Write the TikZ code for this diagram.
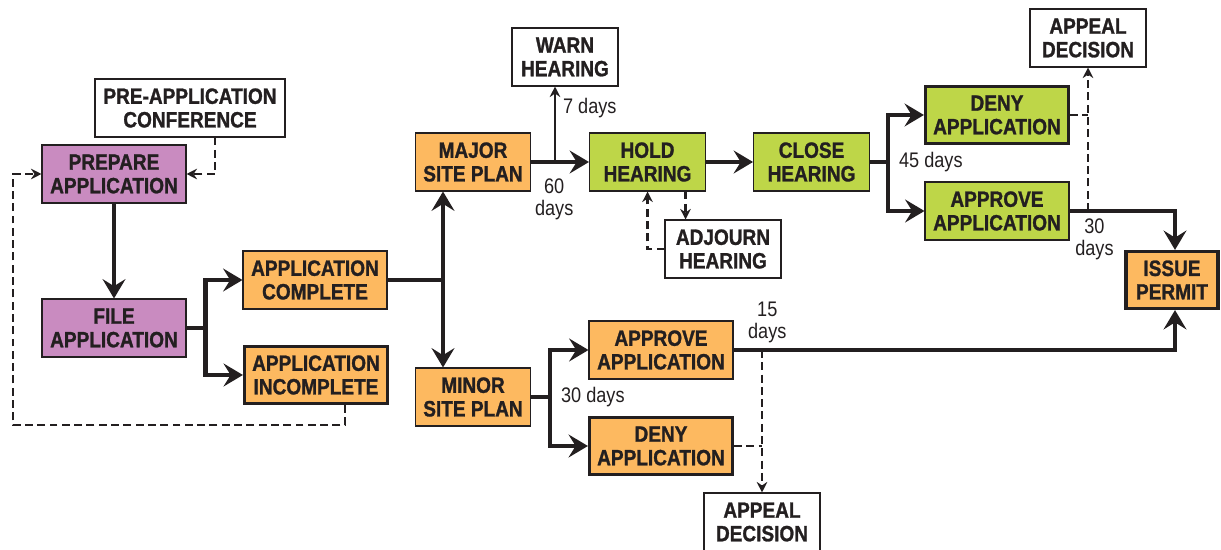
\documentclass[tikz,border=0pt]{standalone}
\usepackage{fontspec}
\setmainfont{Liberation Sans}
\newfontfamily\cnd[FakeStretch=0.86, BoldFeatures={FakeBold=1.2}]{Liberation Sans}
\usepackage{xcolor}
\usetikzlibrary{positioning,arrows.meta}

\definecolor{prepurple}{HTML}{C98BC0}
\definecolor{steporange}{HTML}{FDB960}
\definecolor{hearinggreen}{HTML}{BED648}
\definecolor{inkgray}{HTML}{231F20}

\begin{document}
\begin{tikzpicture}[x=0.02cm, y=-0.02cm,
  box/.style={draw=inkgray, line width=0.6pt, align=center, minimum height=1.16cm, inner sep=2pt, text=inkgray, font=\cnd\bfseries\fontsize{12.6}{13.4}\selectfont},
  purplebox/.style={box, fill=prepurple, minimum width=2.88cm},
  orangebox/.style={box, fill=steporange, minimum width=2.88cm},
  greenbox/.style={box, fill=hearinggreen, minimum width=2.88cm},
  notebox/.style={box, fill=white, minimum width=2.32cm},
  endbox/.style={line width=1.8pt, minimum width=2.86cm, minimum height=1.14cm},
  lbl/.style={font=\cnd\fontsize{12}{12.5}\selectfont, text=inkgray, align=center, inner sep=1pt},
  arr/.style={-{Stealth[length=11pt, width=13pt, inset=4pt]}, line width=2.6pt, draw=inkgray},
  thinarr/.style={-{Stealth[length=6pt, width=6pt, inset=2pt]}, line width=1.2pt, draw=inkgray},
  dsh/.style={thinarr, dash pattern=on 4.5pt off 2.5pt},
  dshline/.style={line width=1.2pt, draw=inkgray, dash pattern=on 4.5pt off 2.5pt}
]
\useasboundingbox (0,0) rectangle (1221,550);

% application stage
\node[notebox, minimum width=3.8cm] (preapp) at (190,108) {PRE-APPLICATION\\CONFERENCE};
\node[purplebox] (prep) at (114,174) {PREPARE\\APPLICATION};
\node[purplebox] (file) at (114,328) {FILE\\APPLICATION};
\node[orangebox] (comp) at (315,280) {APPLICATION\\COMPLETE};
\node[orangebox, endbox] (incomp) at (316,375) {APPLICATION\\INCOMPLETE};

% site plans
\node[orangebox, minimum width=2.3cm] (major) at (473,162) {MAJOR\\SITE PLAN};
\node[orangebox, minimum width=2.3cm] (minor) at (473,397) {MINOR\\SITE PLAN};

% hearing
\node[notebox, minimum width=2.12cm] (warn) at (565,57) {WARN\\HEARING};
\node[greenbox, minimum width=2.32cm, right=1.16cm of major] (hold) {HOLD\\HEARING};
\node[notebox] (adj) at (723,249) {ADJOURN\\HEARING};
\node[greenbox, minimum width=2.32cm, right=0.94cm of hold] (close) {CLOSE\\HEARING};
\node[greenbox, endbox] (denyg) at (997,115) {DENY\\APPLICATION};
\node[greenbox] (apprg) at (997,211) {APPROVE\\APPLICATION};
\node[notebox] (appealg) at (1088,38) {APPEAL\\DECISION};

% minor decisions
\node[orangebox] (appro) at (661,350) {APPROVE\\APPLICATION};
\node[orangebox, endbox] (denyo) at (661,446) {DENY\\APPLICATION};
\node[notebox] (appealo) at (762,522) {APPEAL\\DECISION};

\node[orangebox, endbox, minimum width=1.84cm] (issue) at (1172,280) {ISSUE\\PERMIT};

\draw[arr] (prep) -- (file);
\draw[dsh] ([xshift=0.5cm]preapp.south) |- (prep);
\coordinate (loopcorner) at (13,425);
\draw[dsh] ([xshift=0.58cm]incomp.south) |- (loopcorner) |- (prep.west);

\draw[arr] (file.east) -- ++(19,0) |- (comp);
\draw[arr] (file.east) -- ++(19,0) |- (incomp);
\draw[arr] (comp.east) -| ([xshift=-0.6cm]major.south);
\draw[arr] (comp.east) -| ([xshift=-0.6cm]minor.north);

\draw[arr] (major) -- node[lbl, pos=0.4, below=7pt] {60\\days} (hold);
\draw[thinarr] ([xshift=-0.2cm]warn.south |- major.east) -- node[lbl, pos=0.72, right=3pt] {7 days} ([xshift=-0.2cm]warn.south);
\draw[arr] (hold) -- (close);
\draw[dsh] ([xshift=0.76cm]hold.south) -- ([xshift=0.76cm]hold.south |- adj.north);
\draw[dsh] (adj.west) -| (hold.south);

\draw[arr] (close.east) -- ++(18,0) node[lbl, right=4pt] {45 days} |- (denyg);
\draw[arr] (close.east) -- ++(18,0) |- (apprg);
\draw[arr] (apprg.east) node[lbl, below right=2pt and 1pt] {30\\days} -| ([xshift=0.06cm]issue.north);
\draw[dshline] (denyg.east) -- (denyg.east -| appealg.south);
\draw[dsh] (apprg.east -| appealg.south) -- (appealg.south);

\draw[arr] (minor.east) -- ++(19,0) node[lbl, right=4pt] {30 days} |- (appro);
\draw[arr] (minor.east) -- ++(19,0) |- (denyo);
\draw[arr] (appro.east) node[lbl, above right=2pt and 6pt] {15\\days} -| ([xshift=0.06cm]issue.south);
\draw[dshline] (denyo.east) -- (denyo.east -| appealo.north);
\draw[dsh] (appro.east -| appealo.north) -- (appealo.north);
\end{tikzpicture}
\end{document}
